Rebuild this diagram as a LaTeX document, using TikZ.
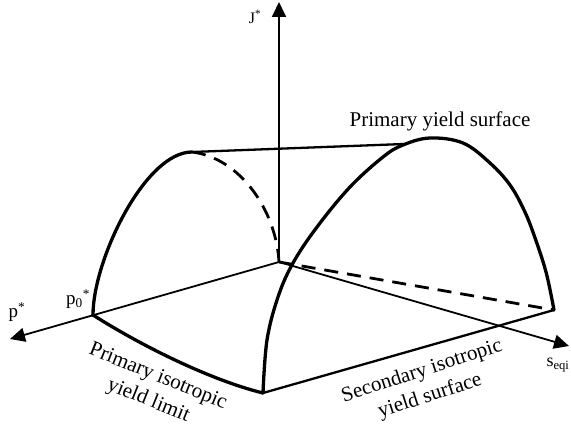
\documentclass[tikz,border=0pt]{standalone}
\usepackage{fontspec}
\setmainfont{Liberation Serif}
\usetikzlibrary{arrows.meta}
\begin{document}
\begin{tikzpicture}[x=1pt,y=-1pt,
  axis/.style={line width=1.8pt, -{Triangle[length=15pt,width=14pt]}},
  edge/.style={line width=2.3pt, line cap=round},
  curve/.style={line width=3.3pt, line cap=round, line join=round},
  hidden/.style={line width=2.8pt, dash pattern=on 14pt off 9pt},
  lbl/.style={font=\fontsize{21}{26}\selectfont, align=center, inner sep=0pt},
  sym/.style={font=\fontsize{19}{22}\selectfont, inner sep=0pt}]
\useasboundingbox (0,0) rectangle (571,425);
\coordinate (O) at (279,262);
\coordinate (Jtip) at (279,2);
\coordinate (Ptip) at (10,339);
\coordinate (Stip) at (569,346);
\coordinate (P0) at (93,315);
\coordinate (F) at (263,393);
\coordinate (R) at (554,310);
\coordinate (TL) at (192,152);
\coordinate (TR) at (404,144);
% axes
\draw[axis] (O) -- (Jtip);
\draw[axis] (O) -- (Ptip);
\draw[axis] (O) -- (Stip);
% base
\draw[edge] (F) -- (R);
\draw[curve] (P0) .. controls (140,345) and (210,380) .. (F);
% left arch
\draw[curve] (P0) .. controls (93,260) and (145,152) .. (TL);
\draw[edge] (TL) -- (TR);
\draw[hidden] (TL) .. controls (240,158) and (276,210) .. (O);
\draw[hidden] (O) -- (R);
% right arch
\draw[curve] plot[smooth, tension=0.6] coordinates {(263,393) (267,340) (278,297) (293,263) (317,227) (350,187) (383,157) (403,145) (430,138) (463,143) (490,163) (510,185) (524,210) (534,235) (546,272) (554,310)};
% labels
\node[sym, font=\fontsize{16}{18}\selectfont] (Jl) at (255,17) {J\textsuperscript{*}};
\node[sym] (pl) at (17,312) {p\textsuperscript{*}};
\node[sym] (p0l) at (78,299) {p\textsubscript{0}\textsuperscript{*}};
\node[sym, font=\fontsize{18}{21}\selectfont] (sl) at (558,365) {s\textsubscript{eqi}};
\node[lbl] (pys) at (440,121) {Primary yield surface};
\node[lbl, rotate=-22] (pyl) at (153,389) {Primary isotropic\\yield limit};
\node[lbl, rotate=18] (sys) at (426,384) {Secondary isotropic\\yield surface};
\end{tikzpicture}
\end{document}
